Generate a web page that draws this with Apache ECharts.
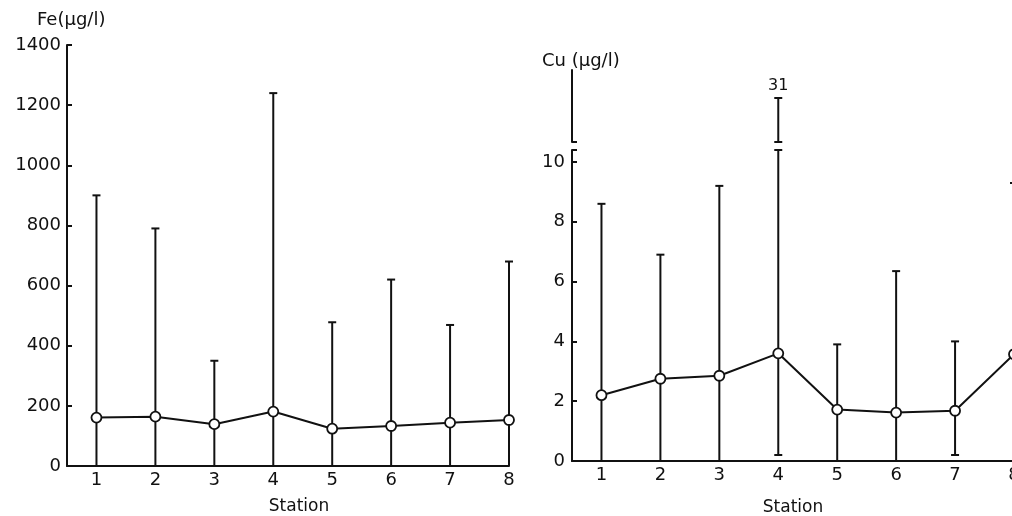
<!DOCTYPE html>
<html>
<head>
<meta charset="utf-8">
<title>Fe / Cu by station</title>
<script src="https://cdn.jsdelivr.net/npm/echarts@6/dist/echarts.min.js"></script>
<style>
  html, body { margin: 0; padding: 0; background: #fff; }
  #chart { width: 1012px; height: 516px; }
</style>
</head>
<body>
<div id="chart"></div>
<script>
// 数据
var stations = [1, 2, 3, 4, 5, 6, 7, 8];
var feMean = [161, 164, 139, 181, 124, 133, 144, 153];
var feHigh = [900, 790, 350, 1240, 478, 620, 469, 680];
var feLow = [0, 0, 0, 0, 0, 0, 0, 0];
var feTicks = [0, 200, 400, 600, 800, 1000, 1200, 1400];

var cuMean = [2.2, 2.75, 2.85, 3.6, 1.72, 1.62, 1.68, 3.57];
var cuHigh = [8.6, 6.9, 9.2, 31, 3.9, 6.35, 4.0, 9.3];
var cuLow = [0, 0, 0, 0.2, 0, 0, 0.2, 0];
var cuTicks = [0, 2, 4, 6, 8, 10];
var cuBreak = 10.4;   // top of the lower Cu axis
var cuUpper = [20, 38]; // range of the broken-off upper Cu axis

var FONT = 'DejaVu Sans';
var INK = '#111';

function pairs(xs, ys) {
    return xs.map(function (x, i) { return [x, ys[i]]; });
}

// error bar: vertical line, cap on top, cap on bottom when not on the axis
function errorBar(bottomCapAlways, showLabel) {
    return function (params, api) {
        var x = api.value(0), lo = api.value(1), hi = api.value(2);
        var a = api.coord([x, lo]);
        var b = api.coord([x, hi]);
        var style = { stroke: INK, lineWidth: 2 };
        var kids = [
            { type: 'line', shape: { x1: a[0], y1: a[1], x2: b[0], y2: b[1] }, style: style },
            { type: 'line', shape: { x1: b[0] - 4, y1: b[1], x2: b[0] + 4, y2: b[1] }, style: style }
        ];
        if (lo > 0 || bottomCapAlways) {
            kids.push({ type: 'line', shape: { x1: a[0] - 4, y1: a[1], x2: a[0] + 4, y2: a[1] }, style: style });
        }
        if (showLabel) {
            kids.push({
                type: 'text',
                x: b[0], y: b[1] - 4,
                style: { text: String(hi), fill: INK, font: '16px ' + FONT, align: 'center', verticalAlign: 'bottom' }
            });
        }
        return { type: 'group', children: kids };
    };
}

var feBars = stations.map(function (s, i) { return [s, feLow[i], feHigh[i]]; });
var cuBarsLow = stations.map(function (s, i) { return [s, cuLow[i], Math.min(cuHigh[i], cuBreak)]; });
var cuBarsHigh = [];
stations.forEach(function (s, i) {
    if (cuHigh[i] > cuBreak) cuBarsHigh.push([s, cuUpper[0], cuHigh[i]]);
});

var labelStyle = { color: INK, fontFamily: FONT, fontSize: 18, formatter: function (v) { return String(v); } };
var lineAxis = { show: true, onZero: false, lineStyle: { color: INK, width: 2 } };

function stationAxis(gridIndex, show, namePad) {
    return {
        type: 'value', gridIndex: gridIndex, show: show,
        min: 0.5, max: 8,
        axisLine: lineAxis,
        axisTick: { show: false },
        splitLine: { show: false },
        axisLabel: Object.assign({ customValues: stations, margin: 5 }, labelStyle),
        name: show ? 'Station' : '',
        nameLocation: 'middle',
        nameGap: gridIndex === 0 ? 32 : 38,
        nameTextStyle: { color: INK, fontFamily: FONT, fontSize: 17, padding: namePad }
    };
}

var option = {
    backgroundColor: '#fff',
    animation: false,
    grid: [
        { left: 67, right: 503, top: 45, bottom: 50, outerBoundsMode: 'none', containLabel: false },
        { left: 572, right: -2, top: 150, bottom: 55, outerBoundsMode: 'none', containLabel: false },
        { left: 572, right: -2, top: 70, height: 72, outerBoundsMode: 'none', containLabel: false }
    ],
    xAxis: [
        stationAxis(0, true, [0, 0, 0, 22]),
        stationAxis(1, true, [0, 0, 0, 0]),
        stationAxis(2, false, [0, 0, 0, 0])
    ],
    yAxis: [
        {
            type: 'value', gridIndex: 0, min: 0, max: 1400, interval: 200,
            axisLine: lineAxis,
            axisTick: { show: true, inside: true, length: 5, lineStyle: { color: INK, width: 2 } },
            splitLine: { show: false },
            axisLabel: Object.assign({ margin: 6, customValues: feTicks }, labelStyle)
        },
        {
            type: 'value', gridIndex: 1, min: 0, max: cuBreak,
            axisLine: lineAxis,
            axisTick: { show: true, inside: true, length: 5, customValues: cuTicks.concat([cuBreak]), lineStyle: { color: INK, width: 2 } },
            splitLine: { show: false },
            axisLabel: Object.assign({ margin: 7, customValues: cuTicks }, labelStyle)
        },
        {
            type: 'value', gridIndex: 2, min: cuUpper[0], max: cuUpper[1],
            axisLine: lineAxis,
            axisTick: { show: true, inside: true, length: 5, customValues: [cuUpper[0]], lineStyle: { color: INK, width: 2 } },
            splitLine: { show: false },
            axisLabel: { show: false }
        }
    ],
    graphic: [
        { type: 'text', left: 37, top: 11, style: { text: 'Fe(μg/l)', fill: INK, font: '18px ' + FONT } },
        { type: 'text', left: 542, top: 52, style: { text: 'Cu (μg/l)', fill: INK, font: '18px ' + FONT } }
    ],
    series: [
        {
            type: 'custom', xAxisIndex: 0, yAxisIndex: 0, z: 2,
            renderItem: errorBar(false, false), data: feBars
        },
        {
            type: 'line', xAxisIndex: 0, yAxisIndex: 0, z: 5,
            data: pairs(stations, feMean),
            symbol: 'circle', symbolSize: 10,
            itemStyle: { color: '#fff', borderColor: INK, borderWidth: 1.8 },
            lineStyle: { color: INK, width: 2 }
        },
        {
            type: 'custom', xAxisIndex: 1, yAxisIndex: 1, z: 2,
            renderItem: errorBar(false, false), data: cuBarsLow
        },
        {
            type: 'custom', xAxisIndex: 2, yAxisIndex: 2, z: 2,
            renderItem: errorBar(true, true), data: cuBarsHigh
        },
        {
            type: 'line', xAxisIndex: 1, yAxisIndex: 1, z: 5,
            data: pairs(stations, cuMean),
            symbol: 'circle', symbolSize: 10,
            itemStyle: { color: '#fff', borderColor: INK, borderWidth: 1.8 },
            lineStyle: { color: INK, width: 2 }
        }
    ]
};

var myChart = echarts.init(document.getElementById('chart'));
myChart.setOption(option);
</script>
</body>
</html>
